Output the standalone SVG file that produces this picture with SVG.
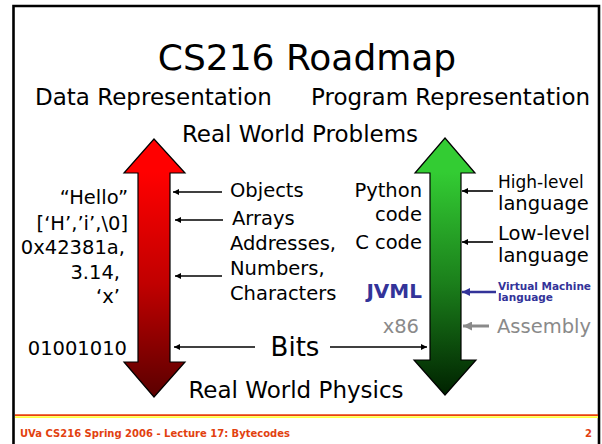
<svg xmlns="http://www.w3.org/2000/svg" width="602" height="444" viewBox="0 0 602 444">
  <style>
    text { font-family: "DejaVu Sans", Verdana, sans-serif; fill: #000; }
    .t19 { font-size: 19.5px; }
    .end { text-anchor: end; }
    .gray { fill: #8a8a8a; }
    .blue { fill: #333399; font-weight: bold; }
    .conn { stroke: #000; stroke-width: 1.6; fill: none; marker-end: url(#ah); }
    .foot { font-size: 10px; font-weight: bold; fill: #e2410f; }
  </style>
  <defs>
    <marker id="ah" viewBox="0 0 10 10" refX="10" refY="5" markerWidth="8" markerHeight="6" markerUnits="userSpaceOnUse" orient="auto">
      <path d="M0,0 L10,5 L0,10 z" fill="#000"/>
    </marker>
    <marker id="ahBlue" viewBox="0 0 10 10" refX="10" refY="5" markerWidth="10" markerHeight="8" markerUnits="userSpaceOnUse" orient="auto">
      <path d="M0,0 L10,5 L0,10 z" fill="#333399"/>
    </marker>
    <marker id="ahGray" viewBox="0 0 10 10" refX="10" refY="5" markerWidth="10" markerHeight="9" markerUnits="userSpaceOnUse" orient="auto">
      <path d="M0,0 L10,5 L0,10 z" fill="#8a8a8a"/>
    </marker>
    <linearGradient id="redGrad" gradientUnits="userSpaceOnUse" x1="0" y1="172" x2="0" y2="397">
      <stop offset="0" stop-color="#ff0000"/>
      <stop offset="0.5" stop-color="#c00000"/>
      <stop offset="1" stop-color="#5a0000"/>
    </linearGradient>
    <linearGradient id="greenGrad" gradientUnits="userSpaceOnUse" x1="0" y1="172" x2="0" y2="395">
      <stop offset="0" stop-color="#33cc33"/>
      <stop offset="0.5" stop-color="#1b7f1b"/>
      <stop offset="1" stop-color="#002200"/>
    </linearGradient>
  </defs>

  <rect width="602" height="444" fill="#fff"/>

  <!-- slide frame, open at the bottom -->
  <path d="M13.5,444 V6 H599 V444" fill="none" stroke="#000" stroke-width="2.6"/>

  <!-- headings -->
  <g id="title">
    <text x="307" y="70" font-size="36" text-anchor="middle">CS216 Roadmap</text>
  </g>
  <g id="data-heading">
    <text x="35" y="105" font-size="23">Data Representation</text>
  </g>
  <g id="program-heading">
    <text x="311" y="105" font-size="23">Program Representation</text>
  </g>
  <g id="problems">
    <text x="300" y="142" font-size="23" text-anchor="middle">Real World Problems</text>
  </g>
  <g id="physics">
    <text x="296" y="398" font-size="23" text-anchor="middle">Real World Physics</text>
  </g>

  <!-- double-headed vertical arrows -->
  <g id="data-arrow">
    <path d="M154,139 L185,173 L170,173 L170,362 L185,362 L154,397 L124,362 L138,362 L138,173 L124,173 Z" fill="url(#redGrad)" stroke="#000" stroke-width="1.2" stroke-linejoin="miter"/>
  </g>
  <g id="program-arrow">
    <path d="M445,138 L475,173 L461,173 L461,360 L476,360 L445,395 L414,360 L430,360 L430,173 L415,173 Z" fill="url(#greenGrad)" stroke="#000" stroke-width="1.2" stroke-linejoin="miter"/>
  </g>

  <!-- data examples -->
  <g id="data-examples" class="t19">
    <text class="end" x="128" y="204">“Hello”</text>
    <text class="end" x="128" y="230">[‘H’,’i’,\0]</text>
    <text class="end" x="125" y="254">0x42381a,</text>
    <text class="end" x="120" y="279">3.14,</text>
    <text class="end" x="120" y="303">‘x’</text>
    <text class="end" x="127" y="355">01001010</text>
  </g>

  <!-- data kinds -->
  <g id="objects"><text class="t19" x="230" y="197">Objects</text></g>
  <g id="arrays"><text class="t19" x="232" y="225">Arrays</text></g>
  <g id="scalars" class="t19">
    <text x="230" y="250">Addresses,</text>
    <text x="230" y="275">Numbers,</text>
    <text x="230" y="300">Characters</text>
  </g>
  <g id="bits"><text x="295" y="356" font-size="26" text-anchor="middle">Bits</text></g>

  <!-- program examples -->
  <g id="program-examples" class="t19">
    <text class="end" x="422" y="197">Python</text>
    <text class="end" x="422" y="221">code</text>
    <text class="end" x="422" y="249">C code</text>
    <text class="end blue" x="422" y="298" font-size="20">JVML</text>
    <text class="end gray" x="419" y="333">x86</text>
  </g>

  <!-- program kinds -->
  <g id="high-level">
    <text x="498" y="188" font-size="17">High-level</text>
    <text x="498" y="210" font-size="19.5">language</text>
  </g>
  <g id="low-level" class="t19">
    <text x="498" y="240">Low-level</text>
    <text x="498" y="262">language</text>
  </g>
  <g id="vm-language" class="blue" font-size="10.5">
    <text class="blue" x="498" y="290">Virtual Machine</text>
    <text class="blue" x="498" y="301">language</text>
  </g>
  <g id="assembly"><text class="t19 gray" x="497" y="333">Assembly</text></g>

  <!-- connectors -->
  <g id="connectors">
    <line class="conn" x1="222" y1="192" x2="173" y2="192"/>
    <line class="conn" x1="223" y1="220" x2="175" y2="220"/>
    <line class="conn" x1="222" y1="276" x2="175" y2="276"/>
    <line class="conn" x1="255" y1="347" x2="174" y2="347"/>
    <line class="conn" x1="330" y1="347" x2="427" y2="347"/>
    <line class="conn" x1="493" y1="191" x2="462" y2="191"/>
    <line class="conn" x1="493" y1="242" x2="462" y2="242"/>
    <line x1="496" y1="292" x2="462" y2="292" stroke="#333399" stroke-width="2.6" marker-end="url(#ahBlue)"/>
    <line x1="489" y1="326" x2="463" y2="326" stroke="#8a8a8a" stroke-width="3" marker-end="url(#ahGray)"/>
  </g>

  <!-- footer -->
  <g id="footer">
    <line x1="15" y1="415.2" x2="598" y2="415.2" stroke="#e8400e" stroke-width="1.8"/>
    <line x1="15" y1="417.2" x2="598" y2="417.2" stroke="#ffff40" stroke-width="1.8"/>
    <text class="foot" x="20" y="437">UVa CS216 Spring 2006 - Lecture 17: Bytecodes</text>
    <text class="foot" x="592" y="437" font-size="11" text-anchor="end">2</text>
  </g>
</svg>
